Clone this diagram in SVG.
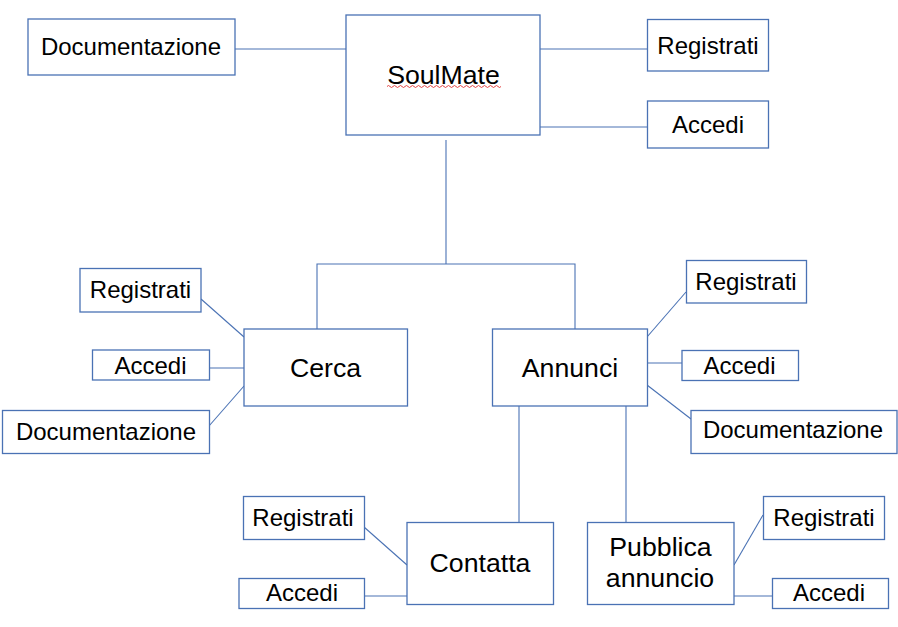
<svg xmlns="http://www.w3.org/2000/svg" width="898" height="627" viewBox="0 0 898 627">
<style>
.box{fill:#ffffff;stroke:#4a72b4;stroke-width:1.3}
.ln{fill:none;stroke:#4a72b4;stroke-width:1.1}
.lbl{font-family:"Liberation Sans",Arial,sans-serif;font-size:24px;fill:#000;text-anchor:middle}
.main{font-family:"Liberation Sans",Arial,sans-serif;font-size:26.7px;fill:#000;text-anchor:middle}
</style>
<rect width="898" height="627" fill="#ffffff"/>
<g id="connectors">
<line class="ln" x1="235" y1="49" x2="346" y2="49"/>
<line class="ln" x1="540" y1="49" x2="647" y2="49"/>
<line class="ln" x1="540" y1="127" x2="647" y2="127"/>
<polyline class="ln" points="446,140 446,264"/>
<polyline class="ln" points="317,329 317,264 575,264 575,329"/>
<line class="ln" x1="201" y1="299" x2="244" y2="337"/>
<line class="ln" x1="209" y1="368" x2="244" y2="368"/>
<line class="ln" x1="209" y1="426" x2="244" y2="386"/>
<line class="ln" x1="647" y1="337" x2="686" y2="292"/>
<line class="ln" x1="647" y1="363" x2="682" y2="363"/>
<line class="ln" x1="647" y1="385" x2="691" y2="419"/>
<line class="ln" x1="519" y1="406" x2="519" y2="522"/>
<line class="ln" x1="626" y1="406" x2="626" y2="522"/>
<line class="ln" x1="364" y1="527" x2="407" y2="565"/>
<line class="ln" x1="364" y1="596" x2="407" y2="596"/>
<line class="ln" x1="734" y1="565" x2="763" y2="515"/>
<line class="ln" x1="734" y1="596" x2="772" y2="596"/>
</g>
<g id="soulmate">
<rect class="box" x="346" y="15" width="194" height="120"/>
<text class="main" x="443.5" y="83.5">SoulMate</text>
<path d="M387 86.5 q1.5 -2 3 0 t3 0 t3 0 t3 0 t3 0 t3 0 t3 0 t3 0 t3 0 t3 0 t3 0 t3 0 t3 0 t3 0 t3 0 t3 0 t3 0 t3 0 t3 0 t3 0 t3 0 t3 0 t3 0 t3 0 t3 0 t3 0 t3 0 t3 0 t3 0 t3 0 t3 0 t3 0 t3 0 t3 0 t3 0 t3 0 t3 0 t3 0" fill="none" stroke="#e03030" stroke-width="0.9"/>
</g>
<g id="doc-top">
<rect class="box" x="28" y="19" width="207" height="56"/>
<text class="lbl" x="131" y="55">Documentazione</text>
</g>
<g id="reg-top">
<rect class="box" x="647.5" y="19.5" width="121" height="51.5"/>
<text class="lbl" x="708" y="53.5">Registrati</text>
</g>
<g id="acc-top">
<rect class="box" x="647.5" y="101" width="121" height="47"/>
<text class="lbl" x="708" y="132.5">Accedi</text>
</g>
<g id="cerca">
<rect class="box" x="244" y="329" width="163.5" height="77"/>
<text class="main" x="325.5" y="376.5">Cerca</text>
</g>
<g id="reg-cerca">
<rect class="box" x="80" y="268.5" width="121" height="43.5"/>
<text class="lbl" x="140.5" y="297.5">Registrati</text>
</g>
<g id="acc-cerca">
<rect class="box" x="92.5" y="350" width="117" height="30"/>
<text class="lbl" x="150.5" y="373.5">Accedi</text>
</g>
<g id="doc-cerca">
<rect class="box" x="2.5" y="410.5" width="207" height="43"/>
<text class="lbl" x="106" y="440">Documentazione</text>
</g>
<g id="annunci">
<rect class="box" x="492.5" y="329" width="155" height="77"/>
<text class="main" x="570" y="376.5">Annunci</text>
</g>
<g id="reg-annunci">
<rect class="box" x="686.5" y="260.5" width="120" height="42.5"/>
<text class="lbl" x="746" y="290">Registrati</text>
</g>
<g id="acc-annunci">
<rect class="box" x="682" y="350.5" width="116.5" height="30"/>
<text class="lbl" x="739.5" y="373.5">Accedi</text>
</g>
<g id="doc-annunci">
<rect class="box" x="691" y="410.5" width="206" height="43"/>
<text class="lbl" x="793" y="437.5">Documentazione</text>
</g>
<g id="contatta">
<rect class="box" x="407" y="522.5" width="146.5" height="82"/>
<text class="main" x="480" y="571.5">Contatta</text>
</g>
<g id="reg-contatta">
<rect class="box" x="243.5" y="496.5" width="121" height="43"/>
<text class="lbl" x="303" y="526">Registrati</text>
</g>
<g id="acc-contatta">
<rect class="box" x="239" y="578.5" width="125.5" height="30"/>
<text class="lbl" x="302" y="601">Accedi</text>
</g>
<g id="pubblica">
<rect class="box" x="587.5" y="522.5" width="146.5" height="82"/>
<text class="main" x="660.5" y="556">Pubblica</text>
<text class="main" x="660" y="586.5">annuncio</text>
</g>
<g id="reg-pubblica">
<rect class="box" x="763.5" y="496.5" width="121" height="43"/>
<text class="lbl" x="824" y="526">Registrati</text>
</g>
<g id="acc-pubblica">
<rect class="box" x="772.5" y="578.5" width="116" height="30"/>
<text class="lbl" x="829" y="601">Accedi</text>
</g>
</svg>
